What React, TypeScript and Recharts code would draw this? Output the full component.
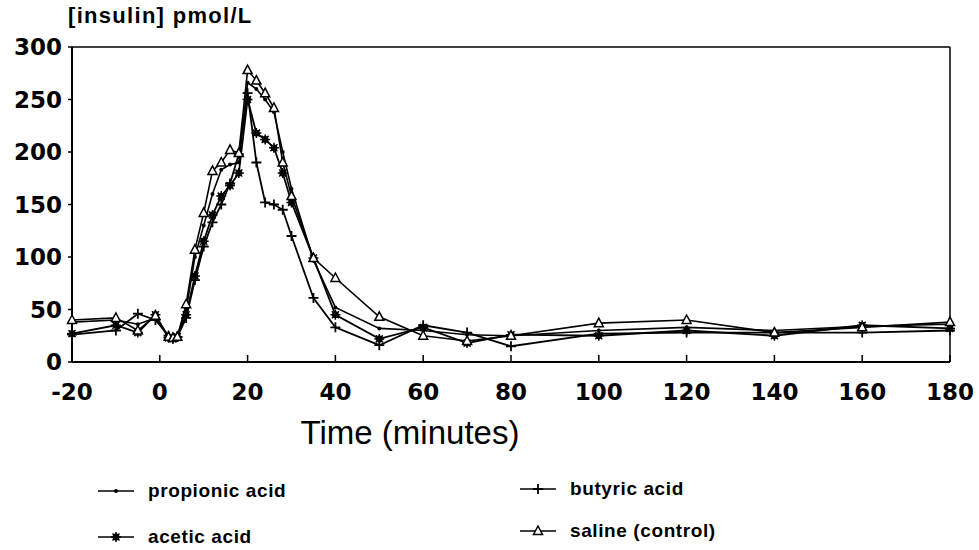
import { LineChart, Line, XAxis, YAxis, ReferenceLine } from 'recharts';

const times = [-20, -10, -5, -1, 2, 3, 4, 6, 8, 10, 12, 14, 16, 18, 20, 22, 24, 26, 28, 30, 35, 40, 50, 60, 70, 80, 100, 120, 140, 160, 180];
const propionic = [38, 40, 36, 42, 24, 23, 25, 50, 100, 130, 160, 183, 188, 190, 266, 260, 250, 238, 200, 165, 97, 52, 32, 30, 26, 25, 30, 33, 30, 34, 36];
const acetic = [27, 35, 28, 45, 23, 22, 24, 45, 82, 115, 140, 158, 168, 180, 250, 218, 212, 204, 180, 152, 99, 45, 22, 33, 18, 26, 25, 30, 25, 35, 32];
const butyric = [26, 30, 46, 40, 25, 23, 24, 42, 78, 110, 133, 150, 170, 198, 256, 190, 152, 150, 145, 120, 61, 33, 16, 35, 28, 15, 27, 28, 28, 28, 30];
const saline = [40, 42, 30, 44, 24, 23, 24, 55, 107, 142, 182, 190, 202, 199, 278, 268, 256, 242, 190, 158, 99, 80, 43, 25, 20, 25, 37, 40, 28, 33, 38];

const xTicks = [-20, 0, 20, 40, 60, 80, 100, 120, 140, 160, 180];
const yTicks = [0, 50, 100, 150, 200, 250, 300];

const data = times.map((t, i) => ({
    time: t,
    propionic: propionic[i],
    acetic: acetic[i],
    butyric: butyric[i],
    saline: saline[i],
}));

const tickFont = { fontFamily: 'DejaVu Sans', fontWeight: 700, fontSize: 23, fill: '#000' };
const labelFont = { fontFamily: 'Liberation Sans', fontWeight: 700, color: '#000' };

type MarkerKind = 'dot' | 'star' | 'plus' | 'triangle';

const Marker = ({ kind, cx, cy }: { kind: MarkerKind, cx: number, cy: number }) => {
    if (kind === 'dot') return <circle cx={cx} cy={cy} r={2} fill="#000" />;
    if (kind === 'star') {
        return (
            <g>
                <circle cx={cx} cy={cy} r={3.4} fill="#000" />
                <path d={`M${cx - 5},${cy} L${cx + 5},${cy} M${cx},${cy - 5} L${cx},${cy + 5} M${cx - 3.5},${cy - 3.5} L${cx + 3.5},${cy + 3.5} M${cx - 3.5},${cy + 3.5} L${cx + 3.5},${cy - 3.5}`} stroke="#000" strokeWidth={1.5} />
            </g>
        );
    }
    if (kind === 'plus') {
        return <path d={`M${cx - 5},${cy} L${cx + 5},${cy} M${cx},${cy - 5} L${cx},${cy + 5}`} stroke="#000" strokeWidth={1.8} />;
    }
    return <path d={`M${cx},${cy - 5} L${cx + 4.5},${cy + 3.5} L${cx - 4.5},${cy + 3.5} Z`} fill="#fff" stroke="#000" strokeWidth={1.5} />;
};

const dotFor = (kind: MarkerKind) => (props: any) => (
    <g key={props.key ?? `${kind}-${props.index}`}>
        <Marker kind={kind} cx={props.cx} cy={props.cy} />
    </g>
);

const XTick = ({ x, y, payload }: any) => (
    <g>
        <line x1={x} x2={x} y1={y} y2={y - 7} stroke="#000" strokeWidth={1.5} />
        <text x={x} y={y + 38} textAnchor="middle" {...tickFont}>{payload.value}</text>
    </g>
);

const LegendItem = ({ kind, label, left, top }: { kind: MarkerKind, label: string, left: number, top: number }) => (
    <div style={{ position: 'absolute', left, top, display: 'flex', alignItems: 'center' }}>
        <svg width={36} height={14} style={{ marginRight: 14 }}>
            <line x1={0} x2={36} y1={7} y2={7} stroke="#000" strokeWidth={1.6} />
            <Marker kind={kind} cx={18} cy={7} />
        </svg>
        <span style={{ ...labelFont, fontSize: 19, letterSpacing: 0.6 }}>{label}</span>
    </div>
);

const App = () => {
    return (
        <div style={{ position: 'absolute', left: 0, top: 0, width: 979, height: 550, background: '#fff' }}>
            <div style={{ ...labelFont, position: 'absolute', left: 68, top: 3, fontSize: 22, letterSpacing: 1.3 }}>
                [insulin] pmol/L
            </div>
            <LineChart
                width={979}
                height={550}
                data={data}
                margin={{ top: 47, right: 29, left: 10, bottom: 148 }}
            >
                <XAxis
                    dataKey="time"
                    type="number"
                    domain={[-20, 180]}
                    ticks={xTicks}
                    height={40}
                    tickSize={0}
                    tickMargin={0}
                    tick={<XTick />}
                    axisLine={{ stroke: '#000', strokeWidth: 2 }}
                    tickLine={false}
                    interval={0}
                />
                <YAxis
                    type="number"
                    domain={[0, 300]}
                    ticks={yTicks}
                    width={62}
                    tick={tickFont}
                    tickSize={4}
                    tickMargin={6}
                    axisLine={{ stroke: '#000', strokeWidth: 2 }}
                    tickLine={{ stroke: '#000', strokeWidth: 1.5 }}
                    interval={0}
                />
                <ReferenceLine y={300} stroke="#000" strokeWidth={1.5} />
                <ReferenceLine x={180} stroke="#000" strokeWidth={1.5} />
                <Line dataKey="propionic" stroke="#000" strokeWidth={1.6} dot={dotFor('dot')} activeDot={false} isAnimationActive={false} />
                <Line dataKey="acetic" stroke="#000" strokeWidth={1.8} dot={dotFor('star')} activeDot={false} isAnimationActive={false} />
                <Line dataKey="butyric" stroke="#000" strokeWidth={1.8} dot={dotFor('plus')} activeDot={false} isAnimationActive={false} />
                <Line dataKey="saline" stroke="#000" strokeWidth={1.6} dot={dotFor('triangle')} activeDot={false} isAnimationActive={false} />
            </LineChart>
            <div style={{ position: 'absolute', left: 0, top: 414, width: 820, textAlign: 'center', fontFamily: 'Liberation Sans', fontSize: 33, color: '#000' }}>
                Time (minutes)
            </div>
            <LegendItem kind="dot" label="propionic acid" left={98} top={480} />
            <LegendItem kind="star" label="acetic acid" left={98} top={526} />
            <LegendItem kind="plus" label="butyric acid" left={520} top={478} />
            <LegendItem kind="triangle" label="saline (control)" left={520} top={520} />
        </div>
    );
};

export default App;
